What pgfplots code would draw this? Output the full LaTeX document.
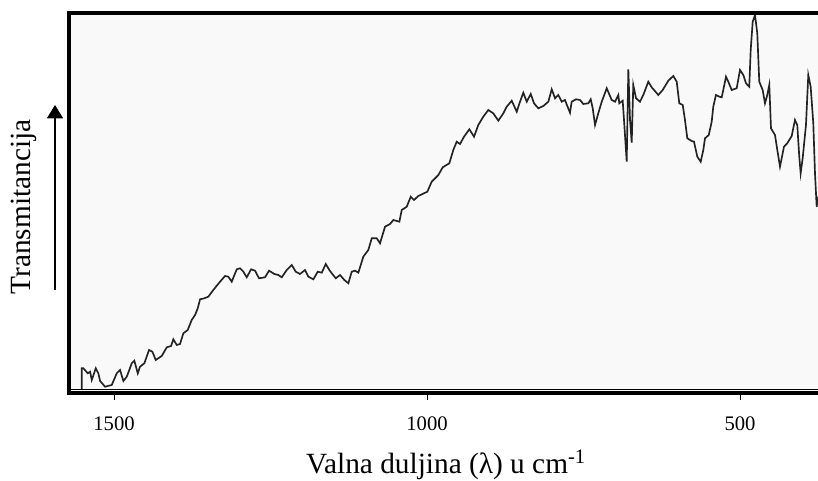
\documentclass[border=0pt]{standalone}
\usepackage{fontspec}
\setmainfont{Liberation Serif}
\usepackage{pgfplots}
\pgfplotsset{compat=1.18}
\usetikzlibrary{arrows.meta}
\definecolor{bgpanel}{RGB}{249,249,249}
\definecolor{trace}{RGB}{35,35,35}

\begin{document}
\begin{tikzpicture}[x=0.75pt,y=0.75pt]
\begin{axis}[
  at={(51.75pt,66pt)}, anchor=south west,
  scale only axis, width=561.75pt, height=285pt,
  x dir=reverse, xmin=375.4, xmax=1572, ymin=0, ymax=380,
  axis background/.style={fill=bgpanel},
  axis line style={draw=none},
  xtick={500,1000,1500}, ytick=\empty,
  xtick pos=bottom, tick align=outside,
  major tick length=5.25pt,
  xtick style={black, line width=0.6pt},
  xticklabel style={font=\fontsize{15.5}{18}\selectfont, yshift=-9pt},
  /pgf/number format/assume math mode=true,
  /pgf/number format/1000 sep={},
  clip mode=individual,
]
% IR spectrum, transmittance in arbitrary units
\addplot[trace, line width=1.25pt] coordinates {
(1551.6,3) (1551.6,24.7) (1549.0,24.7) (1542.0,19.7) (1538.3,21.3) (1535.6,13)
(1529.2,24.7) (1525.1,19.7) (1522.3,12) (1514.4,6.3) (1503.7,8) (1495.7,19.7)
(1490.4,23) (1485.1,12) (1479.7,16.3) (1471.7,29.7) (1467.6,32.3) (1462.1,19.7)
(1458.5,26.3) (1451.6,29.7) (1444.1,43) (1438.8,41.3) (1433.4,33) (1423.8,37)
(1415.8,45.7) (1408.9,47) (1405.3,53.7) (1399.8,48) (1394.6,49) (1389.3,59.7)
(1382.3,63) (1375.9,73) (1370.6,78) (1366.3,84.7) (1362.6,93.7) (1355.7,94.7)
(1349.4,96.3) (1341.4,103) (1330.7,111.3) (1322.7,117) (1317.4,116.3) (1312.0,111.3)
(1304.0,123.7) (1298.7,124.7) (1293.4,121.3) (1288.0,115.7) (1281.1,123.7) (1274.8,122.3)
(1268.4,114.7) (1258.8,115.7) (1252.4,122.3) (1243.9,119) (1237.5,118) (1232.1,115.7)
(1224.1,123) (1216.1,128) (1209.7,121.3) (1202.9,119) (1194.9,123) (1189.6,116.3)
(1181.6,113.7) (1174.6,121.3) (1168.2,120.3) (1161.8,129) (1156.1,123) (1151.3,119)
(1145.8,114.7) (1139.0,118) (1132.1,113) (1125.7,109.7) (1120.3,121.3) (1115.0,122.3)
(1109.7,120.3) (1101.8,136.3) (1093.8,143) (1088.3,154.7) (1080.3,154.7) (1075.1,149.7)
(1067.1,166.3) (1059.1,169) (1053.8,173) (1044.2,171.3) (1040.4,183) (1032.4,186.3)
(1026.0,196.3) (1020.8,193) (1013.9,197) (999.5,201.3) (992.5,211.3) (981.9,218)
(974.9,225.7) (964.4,229.7) (958.0,243) (952.6,251.3) (947.3,249) (940.9,256.3)
(932.4,263.7) (924.9,256.3) (918.1,268) (910.1,276.3) (902.1,283) (894.1,279.7)
(886.1,272.3) (878.1,279.7) (872.7,286.3) (864.7,292.3) (856.7,281.3) (851.4,291.3)
(846.2,300.3) (840.7,291.3) (834.3,299) (829.1,289.7) (822.2,284.7) (814.2,287)
(806.2,291.3) (800.8,303.7) (795.5,294.7) (790.3,298) (784.8,291.3) (779.6,293)
(775.9,287) (771.6,280.3) (768.9,291.3) (762.0,293.7) (755.6,293) (750.3,289)
(742.3,289.7) (738.5,293.7) (735.3,284.7) (731.6,268) (726.4,279.7) (720.9,291.3)
(712.9,304.7) (705.0,293) (699.7,291.3) (694.4,298) (692.8,289.7) (687.4,292.3)
(685.3,273) (681.0,231.3) (678.4,323.7) (675.7,273) (673.0,250.3) (670.5,308)
(666.1,294.7) (659.8,291.3) (654.5,298) (646.5,311.3) (641.1,305.7) (630.5,298)
(623.5,303) (614.5,312.3) (606.6,317) (601.1,311.3) (597.0,289.7) (591.5,288)
(587.9,273) (584.2,254.7) (577.2,252) (573.5,251.3) (568.2,236.3) (562.8,231.3)
(558.6,243) (555.9,254.7) (549.9,258) (545.2,271.3) (542.7,286.3) (538.4,298)
(533.1,296.3) (529.2,295.7) (526.7,303) (522.4,316.3) (518.7,311.3) (513.3,303)
(505.3,304.7) (500.0,323) (494.7,318) (490.4,309.7) (485.2,306.3) (482.9,343)
(479.7,371.3) (476.0,378) (472.4,359.7) (469.2,311.3) (463.8,303) (460.1,289.7)
(456.4,298) (453.2,308) (450.5,264.7) (444.1,258) (440.4,243) (436.1,226.3)
(429.7,246.3) (424.5,249.7) (417.4,257) (412.2,273) (408.5,268) (405.3,236.3)
(403.1,219.7) (399.9,234.7) (394.6,268) (390.9,318) (387.1,306.3) (382.9,269.7)
(380.2,219.7) (377.5,186.3) (375.4,196.3)
};
% frame: thin baseline plus heavy left/top/bottom rules, open on the right
\draw[black, line width=0.6pt] (axis cs:1572,4) -- (axis cs:375.4,4);
\draw[black, line width=2.6pt] (rel axis cs:1,1) -- (rel axis cs:0,1) -- (rel axis cs:0,0) -- (rel axis cs:1,0);
\end{axis}
\draw[black, line width=1pt, -{Triangle[width=12pt,length=10pt]}] (55,191) -- (55,376);
\node[rotate=90, font=\fontsize{22}{26}\selectfont] at (24,274) {Transmitancija};
\node[anchor=base, font=\fontsize{22}{26}\selectfont] at (446,7) {Valna duljina (λ) u cm\textsuperscript{-1}};
\pgfresetboundingbox
\path (0,0) rectangle (818,481);
\end{tikzpicture}
\end{document}
